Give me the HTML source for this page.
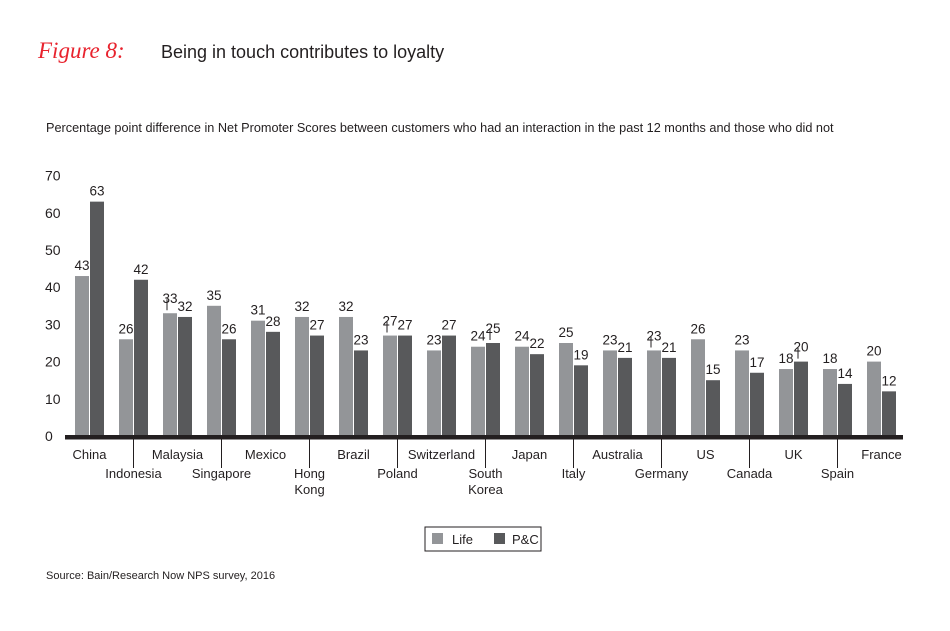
<!DOCTYPE html>
<html><head><meta charset="utf-8"><style>
body{margin:0;background:#fff;width:950px;height:626px;overflow:hidden;font-family:"Liberation Sans",sans-serif;}
svg text{font-family:"Liberation Sans",sans-serif;fill:#231f20;}
</style></head><body>
<svg width="950" height="626">
<text x="38" y="58" style="font-family:'Liberation Serif',serif;font-style:italic;font-size:23px;fill:#e8232e">Figure 8:</text>
<text x="161" y="58" style="font-size:18px">Being in touch contributes to loyalty</text>
<text x="46" y="132" style="font-size:12.7px">Percentage point difference in Net Promoter Scores between customers who had an interaction in the past 12 months and those who did not</text>
<g id="yaxis"></g>
<g id="bars"></g>
<rect x="65" y="435" width="838" height="4.5" fill="#231f20"/>
<g id="xaxis"></g>
<g>
<rect x="425" y="527" width="116" height="24" fill="none" stroke="#231f20" stroke-width="1"/>
<rect x="432" y="533" width="11" height="11" fill="#939598"/>
<text x="452" y="544" style="font-size:13px">Life</text>
<rect x="494" y="533" width="11" height="11" fill="#58595b"/>
<text x="512" y="544" style="font-size:13px">P&amp;C</text>
</g>
<text x="46" y="579" style="font-size:11px">Source: Bain/Research Now NPS survey, 2016</text>
</svg>
<script>
const categories=["China","Indonesia","Malaysia","Singapore","Mexico","Hong Kong","Brazil","Poland","Switzerland","South Korea","Japan","Italy","Australia","Germany","US","Canada","UK","Spain","France"];
const lifeValues=[43,26,33,35,31,32,32,27,23,24,24,25,23,23,26,23,18,18,20];
const pcValues=[63,42,32,26,28,27,23,27,27,25,22,19,21,21,15,17,20,14,12];
const yTicks=[0,10,20,30,40,50,60,70];
const leaderLife=[2,7,13];
const leaderPc=[9,16];
const NS="http://www.w3.org/2000/svg";
const y0=436, unit=3.72, x0=75, step=44, bw=14;
const yS=v=>y0-v*unit;
const xS=i=>x0+i*step;
function mk(tag,attrs,parent){const e=document.createElementNS(NS,tag);for(const k in attrs)e.setAttribute(k,attrs[k]);parent.appendChild(e);return e;}
const ya=document.getElementById('yaxis'),bars=document.getElementById('bars'),xa=document.getElementById('xaxis');
yTicks.forEach(t=>{const e=mk('text',{x:45,y:yS(t)+5,'font-size':14},ya);


e.textContent=t;});
function bar(i,v,off,col,lead,nm){
 const x=xS(i)+off,top=yS(v);
 const r=mk('rect',{x:x,y:top,width:bw,height:y0-top,fill:col},bars);
 
 
 let ly=top-6;
 if(lead){const l=mk('line',{x1:x+bw/2-3,x2:x+bw/2-3,y1:top-3,y2:top-14,stroke:'#231f20','stroke-width':1},bars);
  
  
  ly=top-10;}
 const t=mk('text',{x:x+bw/2,y:ly,'text-anchor':'middle','font-size':13.5},bars);
 
 
 t.textContent=v;
}
categories.forEach((c,i)=>{
 bar(i,lifeValues[i],0,'#939598',leaderLife.includes(i),'bar-life');
 bar(i,pcValues[i],bw+1,'#58595b',leaderPc.includes(i),'bar-pc');
 const cx=xS(i)+bw+0.5, odd=i%2===1;
 if(odd){const l=mk('line',{x1:cx,x2:cx,y1:439,y2:468,stroke:'#231f20','stroke-width':1},xa);
  
  }
 const parts=(c==="Hong Kong"||c==="South Korea")?c.split(' '):[c];
 parts.forEach((p,j)=>{const t=mk('text',{x:cx,y:(odd?478:459)+j*16,'text-anchor':'middle','font-size':13},xa);
  
  
  t.textContent=p;});
});
</script>
</body></html>
